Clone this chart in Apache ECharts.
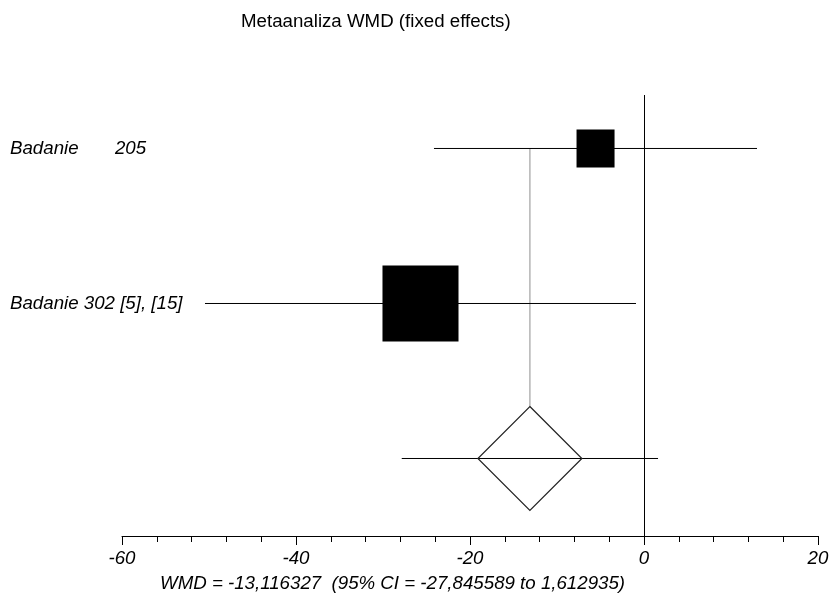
<!DOCTYPE html>
<html><head><meta charset="utf-8">
<script src="https://cdn.jsdelivr.net/npm/echarts@6/dist/echarts.min.js"></script>
<style>html,body{margin:0;padding:0;background:#fff}#c{width:830px;height:596px}</style>
</head><body><div id="c"></div>
<script>
// ---- data ----
const titleText = 'Metaanaliza WMD (fixed effects)';
const studies = ['Badanie       205', 'Badanie 302 [5], [15]'];
const studyRows = [3, 2];
const estimates = [-5.57, -25.69];
const lower = [-24.14, -50.46];
const upper = [12.99, -0.92];
const weights = [20, 80];
const pooledRow = 1;
const pooledEst = -13.116327;
const pooledLow = -27.845589;
const pooledHigh = 1.612935;
const xMin = -60, xMax = 20, xStep = 20;

const FONT = '"Liberation Sans", Arial, Helvetica, sans-serif';
const FS = 18.7;
const fmt = v => v.toFixed(6).replace('.', ',');
const statText = 'WMD = ' + fmt(pooledEst) + '  (95% CI = ' + fmt(pooledLow) + ' to ' + fmt(pooledHigh) + ')';

const studyData = studies.map((s, i) => [estimates[i], studyRows[i], lower[i], upper[i], weights[i]]);
const pooledData = [[pooledEst, pooledRow, pooledLow, pooledHigh, studyRows[0]]];

const chart = echarts.init(document.getElementById('c'), null, {renderer: 'canvas'});
chart.setOption({
  animation: false,
  backgroundColor: '#fff',
  textStyle: {fontFamily: FONT},
  title: {
    text: titleText, left: 241, top: 12, padding: 0,
    textStyle: {fontFamily: FONT, fontSize: FS, fontWeight: 'normal', color: '#000'}
  },
  graphic: [{
    type: 'text', left: 160, top: 574,
    style: {text: statText, fill: '#000', font: 'italic ' + FS + 'px ' + FONT}
  }],
  grid: {left: 122, right: 12, top: 95, bottom: 60, outerBoundsMode: 'none'},
  xAxis: {
    type: 'value', min: xMin, max: xMax, interval: xStep,
    axisLine: {show: true, onZero: false, lineStyle: {color: '#000', width: 1}},
    axisTick: {show: true, length: 9, lineStyle: {color: '#000'}},
    minorTick: {show: true, splitNumber: 5, length: 6, lineStyle: {color: '#000'}},
    splitLine: {show: false},
    axisLabel: {fontFamily: FONT, fontSize: FS, fontStyle: 'italic', color: '#000', margin: 13}
  },
  yAxis: {
    type: 'value', min: 0.5, max: 3.345,
    axisLine: {show: false}, axisTick: {show: false}, splitLine: {show: false},
    axisLabel: {
      customValues: studyRows,
      formatter: v => { const i = studyRows.indexOf(v); return i >= 0 ? studies[i] : ''; },
      align: 'left', margin: 112,
      fontFamily: FONT, fontSize: FS, fontStyle: 'italic', color: '#000'
    }
  },
  series: [
    {
      type: 'custom',
      data: pooledData,
      encode: {x: [0, 2, 3], y: [1, 4]},
      renderItem: (params, api) => {
        const p = api.coord([api.value(0), api.value(1)]);
        const l = api.coord([api.value(2), api.value(1)]);
        const h = api.coord([api.value(3), api.value(1)]);
        const top = api.coord([api.value(0), api.value(4)]);
        const d = 52;
        return {type: 'group', children: [
          {type: 'line', shape: {x1: p[0], y1: top[1], x2: p[0], y2: p[1] - d}, style: {stroke: '#b4b4b4', lineWidth: 1.5}},
          {type: 'line', shape: {x1: l[0], y1: l[1], x2: h[0], y2: h[1]}, style: {stroke: '#000', lineWidth: 1}},
          {type: 'polygon', shape: {points: [[p[0], p[1] - d], [p[0] + d, p[1]], [p[0], p[1] + d], [p[0] - d, p[1]]]},
            style: {fill: 'none', stroke: '#222', lineWidth: 1.2}}
        ]};
      },
      markLine: {
        silent: true, symbol: 'none', label: {show: false},
        lineStyle: {color: '#000', type: 'solid', width: 1},
        data: [{xAxis: 0}]
      },
      z: 2
    },
    {
      type: 'custom',
      data: studyData,
      encode: {x: [0, 2, 3], y: 1},
      renderItem: (params, api) => {
        const p = api.coord([api.value(0), api.value(1)]);
        const l = api.coord([api.value(2), api.value(1)]);
        const h = api.coord([api.value(3), api.value(1)]);
        const side = 8.5 * Math.sqrt(api.value(4));
        return {type: 'group', children: [
          {type: 'line', shape: {x1: l[0], y1: l[1], x2: h[0], y2: h[1]}, style: {stroke: '#000', lineWidth: 1}},
          {type: 'rect', shape: {x: p[0] - side / 2, y: p[1] - side / 2, width: side, height: side}, style: {fill: '#000'}}
        ]};
      },
      z: 3
    }
  ]
});
</script></body></html>
